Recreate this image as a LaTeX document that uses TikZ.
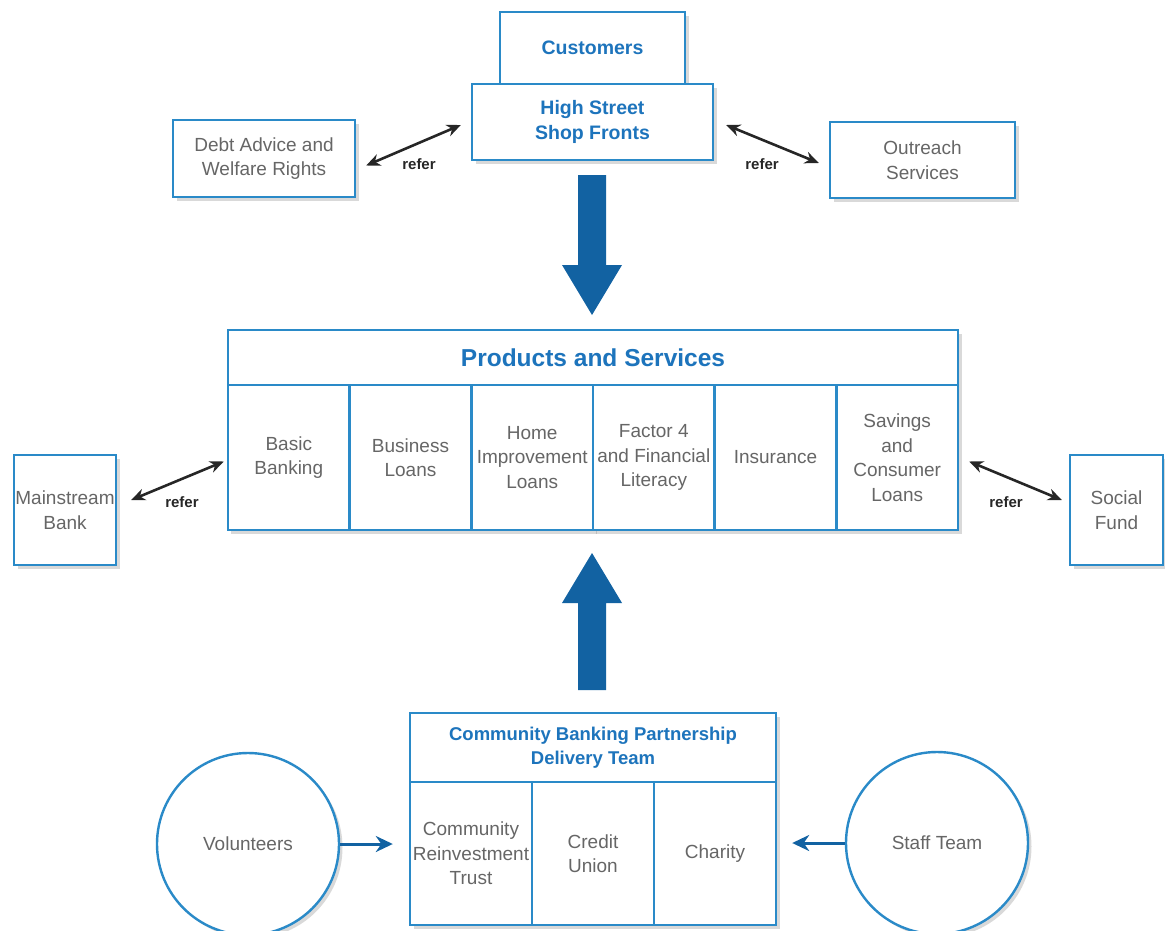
\documentclass[tikz,border=0pt]{standalone}
\usepackage{fontspec}
\setmainfont{Liberation Sans}
\usetikzlibrary{shadows,calc,arrows.meta}
\definecolor{bord}{HTML}{2A8AC8}
\definecolor{btext}{HTML}{1D74BC}
\definecolor{barrow}{HTML}{1262A2}
\definecolor{gtext}{HTML}{666666}
\definecolor{rtext}{HTML}{262626}
\tikzset{
  box/.style={draw=bord, line width=2.4pt, fill=white, align=center, inner sep=0pt,
    drop shadow={opacity=0.3, shadow xshift=3.5pt, shadow yshift=-3.5pt}},
  graytxt/.style={text=gtext, font=\fontsize{19}{24.5}\selectfont},
  bluetxt/.style={text=btext, font=\bfseries\fontsize{19.5}{24.5}\selectfont},
  cell/.style={box, graytxt, minimum width=121.67pt, minimum height=145pt},
  ccell/.style={box, graytxt, minimum width=122pt, minimum height=143pt},
  circ/.style={box, circle, graytxt, minimum size=182pt},
  referarrow/.style={draw=rtext, line width=2.6pt, {Stealth[length=14pt,width=12pt]}-{Stealth[length=14pt,width=12pt]}},
  referlbl/.style={text=rtext, font=\bfseries\fontsize{15}{18}\selectfont},
  bluearrow/.style={draw=barrow, line width=3pt, -{Stealth[length=17pt,width=16pt]}},
  bigarrow/.style={fill=barrow}
}
\begin{document}
\begin{tikzpicture}[x=1pt,y=-1pt]
\useasboundingbox (0,0) rectangle (1165,930);
% top
\node[box, bluetxt, minimum width=185pt, minimum height=72pt] (cust) at (592.5,48) {Customers};
\node[box, bluetxt, minimum width=241pt, minimum height=76pt] (hs) at (592.5,122) {High Street\\Shop Fronts};
\node[box, graytxt, minimum width=182pt, minimum height=77pt] (debt) at (264,158.5) {Debt Advice and\\Welfare Rights};
\node[box, graytxt, minimum width=185pt, minimum height=76pt] (out) at (922.5,160) {Outreach\\Services};
\draw[referarrow] ($(hs.west)+(-10,3)$) -- ($(debt.east)+(10,7)$);
\draw[referarrow] ($(hs.east)+(12,3)$) -- ($(out.west)+(-10,3)$);
\node[referlbl] (r1) at (419,164) {refer};
\node[referlbl] (r2) at (762,164) {refer};
% big down arrow
\fill[bigarrow] (578,175) -- (606,175) -- (606,265) -- (622,265) -- (592,315) -- (562,265) -- (578,265) -- cycle;
% products
\node[box, text=btext, font=\bfseries\fontsize{24.5}{28}\selectfont, minimum width=730pt, minimum height=55pt] (ps) at (593,357.5) {Products and Services};
\node[cell] (c1) at (288.8,457.5) {Basic\\Banking};
\node[cell] (c2) at (410.5,457.5) {Business\\Loans};
\node[cell] (c3) at (532.2,457.5) {Home\\Improvement\\Loans};
\node[cell] (c4) at (653.8,457.5) {Factor 4\\and Financial\\Literacy};
\node[cell] (c5) at (775.5,457.5) {Insurance};
\node[cell] (c6) at (897.2,457.5) {Savings\\and\\Consumer\\Loans};
\node[box, graytxt, minimum width=102pt, minimum height=110pt] (mb) at (65,510) {Mainstream\\Bank};
\node[box, graytxt, minimum width=93pt, minimum height=110pt] (sf) at (1116.5,510) {Social\\Fund};
\draw[referarrow] ($(c1.west)+(-3,4)$) -- ($(mb.east)+(14,-10)$);
\draw[referarrow] ($(c6.east)+(10,4)$) -- ($(sf.west)+(-7,-10)$);
\node[referlbl] (r3) at (182,502) {refer};
\node[referlbl] (r4) at (1006,502) {refer};
% big up arrow
\fill[bigarrow] (578,690) -- (606,690) -- (606,603) -- (622,603) -- (592,553) -- (562,603) -- (578,603) -- cycle;
% community
\node[box, bluetxt, font=\bfseries\fontsize{18.5}{24.5}\selectfont, minimum width=366pt, minimum height=69pt] (cb) at (593,747.5) {Community Banking Partnership\\Delivery Team};
\node[ccell] (d1) at (471,853.5) {Community\\Reinvestment\\Trust};
\node[ccell] (d2) at (593,853.5) {Credit\\Union};
\node[ccell] (d3) at (715,853.5) {Charity};
\node[circ] (vol) at (248,844) {Volunteers};
\node[circ] (staff) at (937,843) {Staff Team};
\draw[bluearrow] (vol.east) -- ($(vol.east -| d1.west)+(-16,0)$);
\draw[bluearrow] (staff.west) -- ($(staff.west -| d3.east)+(15,0)$);
\end{tikzpicture}
\end{document}
